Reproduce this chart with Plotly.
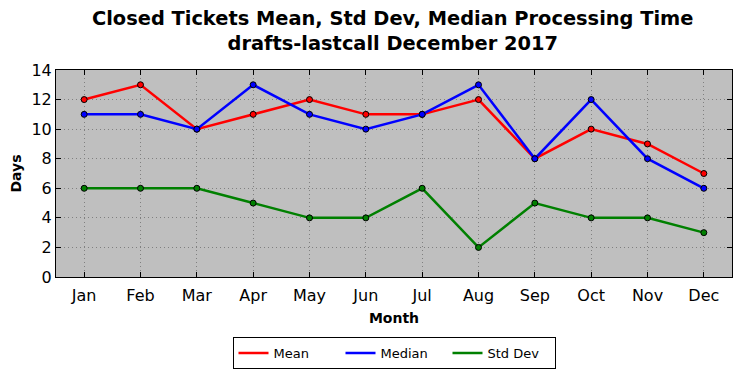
import plotly.graph_objects as go

months = ["Jan", "Feb", "Mar", "Apr", "May", "Jun", "Jul", "Aug", "Sep", "Oct", "Nov", "Dec"]
mean_vals = [12, 13, 10, 11, 12, 11, 11, 12, 8, 10, 9, 7]
median_vals = [11, 11, 10, 13, 11, 10, 11, 13, 8, 12, 8, 6]
std_vals = [6, 6, 6, 5, 4, 4, 6, 2, 5, 4, 4, 3]

fig = go.Figure()
for name, vals, color in [("Mean", mean_vals, "#ff0000"),
                          ("Median", median_vals, "#0000ff"),
                          ("Std Dev", std_vals, "#008000")]:
    fig.add_trace(go.Scatter(
        x=months, y=vals, name=name, mode="lines",
        line=dict(color=color, width=2.5), showlegend=True,
    ))
    fig.add_trace(go.Scatter(
        x=months, y=vals, name=name, mode="markers", showlegend=False,
        marker=dict(color=color, size=6, line=dict(color="black", width=1)),
    ))

font = "DejaVu Sans, sans-serif"
fig.update_layout(
    width=741, height=378,
    margin=dict(l=56, r=9, t=70, b=97),
    paper_bgcolor="white",
    plot_bgcolor="#bfbfbf",
    font=dict(family=font, color="black"),
    title=dict(
        text="<b>Closed Tickets Mean, Std Dev, Median Processing Time<br>drafts-lastcall December 2017</b>",
        x=0.53, xanchor="center", yref="container", y=0.935, yanchor="middle",
        font=dict(size=19.4, family=font), automargin=False,
    ),
    showlegend=True,
    legend=dict(
        orientation="h", x=0.5, xanchor="center", y=-0.29, yanchor="top",
        bordercolor="black", borderwidth=1, bgcolor="white",
        font=dict(size=13, family=font), itemwidth=30,
        entrywidth=62, entrywidthmode="pixels",
    ),
)
fig.update_xaxes(
    range=[-0.5, 11.5], showline=True, linecolor="black", linewidth=1, mirror="allticks",
    ticks="inside", ticklen=5, tickcolor="black", automargin=False, ticklabelstandoff=4,
    showgrid=True, gridcolor="#808080", griddash="1px,3px", gridwidth=1,
    tickfont=dict(size=16, family=font),
    title=dict(text="<b>Month</b>", font=dict(size=14, family=font), standoff=8),
)
fig.update_yaxes(
    range=[0, 14], dtick=2, showline=True, linecolor="black", linewidth=1, mirror="allticks",
    ticks="inside", ticklen=5, tickcolor="black", automargin=False,
    showgrid=True, gridcolor="#808080", griddash="1px,3px", gridwidth=1,
    tickfont=dict(size=16, family=font), zeroline=False,
    title=dict(text="<b>Days</b>", font=dict(size=14, family=font), standoff=6),
)
fig.write_html(
    "out.html",
    config={"displayModeBar": False},
    post_script="document.body.style.margin='0';document.body.style.overflow='hidden';",
)
